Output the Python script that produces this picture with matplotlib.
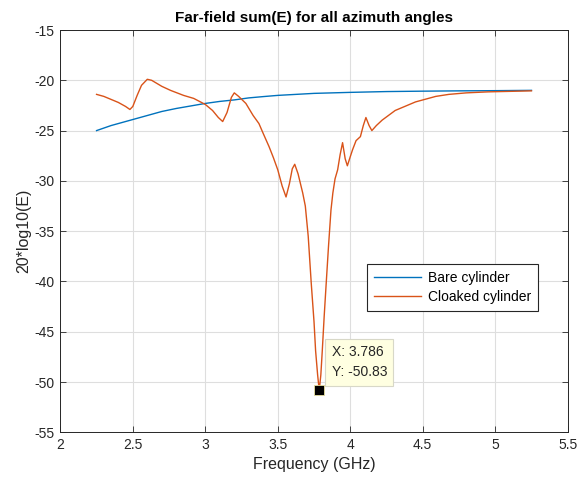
import matplotlib
matplotlib.use("Agg")
import matplotlib.pyplot as plt

plt.rcParams['font.family'] = ['Liberation Sans', 'DejaVu Sans']
plt.rcParams['axes.unicode_minus'] = False

# Bare cylinder
bare_f = [2.25, 2.30, 2.35, 2.40, 2.45, 2.50, 2.55, 2.60, 2.65, 2.70, 2.80, 2.90, 3.00,
          3.10, 3.20, 3.30, 3.40, 3.50, 3.60, 3.75, 4.00, 4.25, 4.50, 4.75, 5.00, 5.25]
bare_db = [-25.0, -24.75, -24.5, -24.3, -24.1, -23.9, -23.7, -23.5, -23.3, -23.1, -22.8,
           -22.55, -22.3, -22.1, -21.95, -21.75, -21.62, -21.5, -21.42, -21.3, -21.2,
           -21.12, -21.08, -21.05, -21.03, -21.0]

# Cloaked cylinder
cloak_f = [2.25, 2.30, 2.35, 2.40, 2.45, 2.48, 2.50, 2.53, 2.56, 2.60, 2.63, 2.70, 2.76,
           2.85, 2.92, 3.00, 3.05, 3.09, 3.12, 3.15, 3.18, 3.20, 3.23, 3.28, 3.33, 3.37,
           3.40, 3.44, 3.47, 3.50, 3.53, 3.557, 3.58, 3.60, 3.617, 3.64, 3.672, 3.69,
           3.71, 3.731, 3.75, 3.761, 3.775, 3.786, 3.797, 3.807, 3.82, 3.834, 3.85, 3.867,
           3.88, 3.895, 3.913, 3.93, 3.947, 3.965, 3.98, 4.00, 4.016, 4.04, 4.07, 4.09,
           4.108, 4.13, 4.149, 4.18, 4.22, 4.31, 4.45, 4.59, 4.68, 4.80, 4.95, 5.10, 5.25]
cloak_db = [-21.4, -21.6, -21.9, -22.2, -22.6, -22.9, -22.6, -21.5, -20.5, -19.9, -20.0,
            -20.6, -21.0, -21.5, -21.8, -22.4, -23.0, -23.7, -24.1, -23.2, -21.7, -21.25,
            -21.6, -22.3, -23.5, -24.3, -25.3, -26.6, -27.7, -28.9, -30.5, -31.6, -30.3,
            -28.8, -28.35, -29.3, -31.2, -32.5, -35.5, -40.2, -44.0, -46.9, -49.3, -50.83,
            -49.3, -46.9, -43.5, -40.2, -36.5, -32.9, -31.2, -29.8, -28.9, -27.4, -26.2,
            -27.8, -28.5, -27.6, -26.9, -26.0, -25.6, -24.5, -23.7, -24.5, -25.0, -24.5,
            -23.96, -23.0, -22.15, -21.6, -21.4, -21.25, -21.15, -21.1, -21.05]

tip_x, tip_y = 3.786, -50.83

xticks = [2, 2.5, 3, 3.5, 4, 4.5, 5, 5.5]
xtick_labels = ['2', '2.5', '3', '3.5', '4', '4.5', '5', '5.5']
yticks = [-55, -50, -45, -40, -35, -30, -25, -20, -15]

fig = plt.figure(figsize=(5.8, 4.88), dpi=100)
ax = fig.add_axes([0.104, 0.1141, 0.8748, 0.8244])

dark = '#262626'
ax.plot(bare_f, bare_db, color='#0072BD', lw=1.0, label='Bare cylinder')
ax.plot(cloak_f, cloak_db, color='#D95319', lw=1.0, label='Cloaked cylinder')

ax.set_xlim(2, 5.5)
ax.set_ylim(-55, -15)
ax.set_xticks(xticks)
ax.set_xticklabels(xtick_labels)
ax.set_yticks(yticks)
ax.grid(True, color='#DEDEDE', lw=0.8)
ax.set_axisbelow(True)
ax.tick_params(direction='in', length=4, width=0.6, colors=dark, labelsize=10,
               top=True, right=True, pad=4)
for s in ax.spines.values():
    s.set_color(dark)
    s.set_linewidth(0.7)

ax.set_title('Far-field sum(E) for all azimuth angles', fontsize=11, fontweight='bold',
             color='black', pad=6)
ax.set_xlabel('Frequency (GHz)', fontsize=11.5, color=dark, labelpad=4)
ax.set_ylabel('20*log10(E)', fontsize=11.5, color=dark, labelpad=2)

leg = ax.legend(loc='upper left', bbox_to_anchor=(0.6045, 0.418), borderaxespad=0,
                fancybox=False, edgecolor=dark, framealpha=1, fontsize=10,
                handlelength=3.4, handletextpad=0.5, borderpad=0.5, labelspacing=0.35)
leg.get_frame().set_linewidth(0.8)

# data tip
ax.plot([tip_x], [tip_y], marker='s', markersize=7, color='black',
        markeredgecolor='#E8E0A0', markeredgewidth=0.6, zorder=5)
ax.annotate(f'X: {tip_x}\nY: {tip_y}', xy=(tip_x, tip_y), xytext=(9, 8),
            textcoords='offset points', ha='left', va='bottom', fontsize=10,
            color=dark, linespacing=1.55,
            bbox=dict(boxstyle='square,pad=0.45', facecolor='#FFFFE1',
                      edgecolor='#D8D8C8', lw=0.8), zorder=6)

fig.savefig('out.png', dpi=100)
